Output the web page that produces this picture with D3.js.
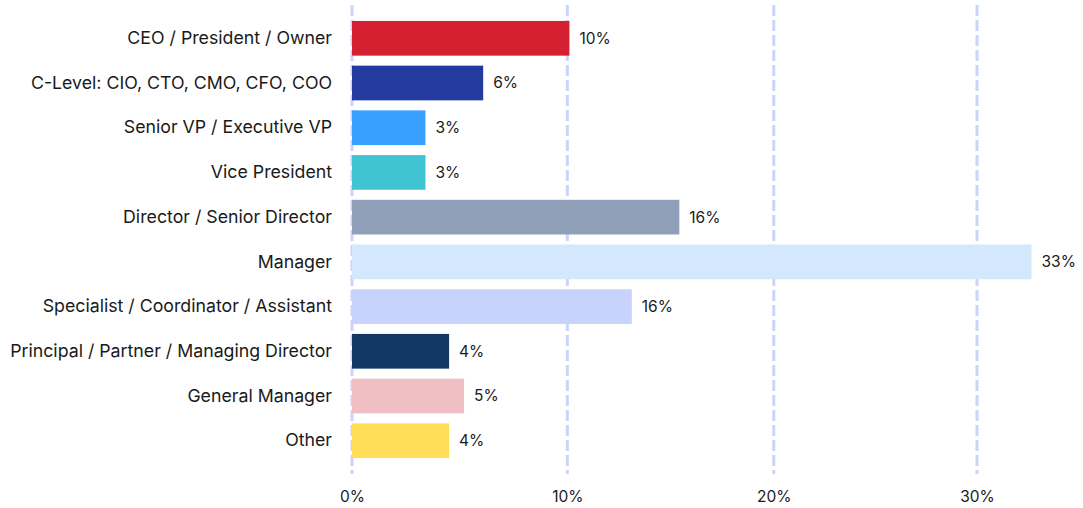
<!DOCTYPE html>
<html>
<head>
<meta charset="utf-8">
<script src="https://cdn.jsdelivr.net/npm/d3@7"></script>
<style>
  html, body { margin: 0; padding: 0; background: #ffffff; }
  svg { display: block; }
  text { font-family: "Inter", "Open Sans", sans-serif; fill: #1a1a1a; }
</style>
</head>
<body>
<svg id="chart" width="1083" height="508"></svg>
<script>
const categories = [
  "CEO / President / Owner",
  "C-Level: CIO, CTO, CMO, CFO, COO",
  "Senior VP / Executive VP",
  "Vice President",
  "Director / Senior Director",
  "Manager",
  "Specialist / Coordinator / Assistant",
  "Principal / Partner / Managing Director",
  "General Manager",
  "Other"
];
const values = [10.1, 6.0, 3.3, 3.3, 15.4, 32.7, 13.1, 4.4, 5.1, 4.4];
const valueLabels = ["10%", "6%", "3%", "3%", "16%", "33%", "16%", "4%", "5%", "4%"];
const colors = ["#d42030", "#233a9e", "#38a0ff", "#40c4d4", "#8fa0b8", "#d3e7fd", "#c8d3fb", "#133766", "#f1bfc3", "#ffdd57"];
const tickValues = [0, 10, 20, 30];
const tickLabels = ["0%", "10%", "20%", "30%"];

const svg = d3.select("#chart");
const x0 = 352;
const x = d3.scalePow().exponent(0.97).domain([0, 30]).range([x0, 977]);
const y = d3.scaleBand().domain(categories).range([12, 467]).paddingInner(0.224).paddingOuter(0.2);

// gridlines
svg.append("g").selectAll("line").data(tickValues).join("line")
  .attr("x1", d => x(d)).attr("x2", d => x(d))
  .attr("y1", 5).attr("y2", 474)
  .attr("stroke", "#c9d5fb").attr("stroke-width", 3)
  .attr("stroke-dasharray", "11 4");

// tick labels
const xAxis = d3.axisBottom(x).tickValues(tickValues).tickFormat((d, i) => tickLabels[i]).tickSize(0).tickPadding(0);
const gx = svg.append("g").attr("transform", "translate(0,497)").call(xAxis);
gx.select(".domain").remove();
gx.selectAll("text").attr("font-size", 15.5).attr("font-family", "Inter, sans-serif").attr("fill", "#1a1a1a").attr("dy", "0.35em");

// bars
svg.append("g").selectAll("rect").data(categories).join("rect")
  .attr("x", x0)
  .attr("y", d => y(d))
  .attr("width", (d, i) => x(values[i]) - x0)
  .attr("height", y.bandwidth())
  .attr("fill", (d, i) => colors[i]);

// value labels
svg.append("g").selectAll("text").data(categories).join("text")
  .attr("x", (d, i) => x(values[i]) + 10)
  .attr("y", d => y(d) + y.bandwidth() / 2)
  .attr("dy", "0.35em")
  .attr("font-size", 15.5)
  .text((d, i) => valueLabels[i]);

// category labels
const yAxis = d3.axisLeft(y).tickSize(0).tickPadding(0);
const gy = svg.append("g").attr("transform", "translate(332,0)").call(yAxis);
gy.select(".domain").remove();
const catText = gy.selectAll("text").attr("font-size", 15).attr("font-family", "DejaVu Sans, sans-serif").attr("fill", "#1a1a1a");
// fit widest label to the reference width
let maxW = 0;
catText.each(function() { maxW = Math.max(maxW, this.getComputedTextLength()); });
catText.attr("font-size", 15 * 322 / maxW);
</script>
</body>
</html>
